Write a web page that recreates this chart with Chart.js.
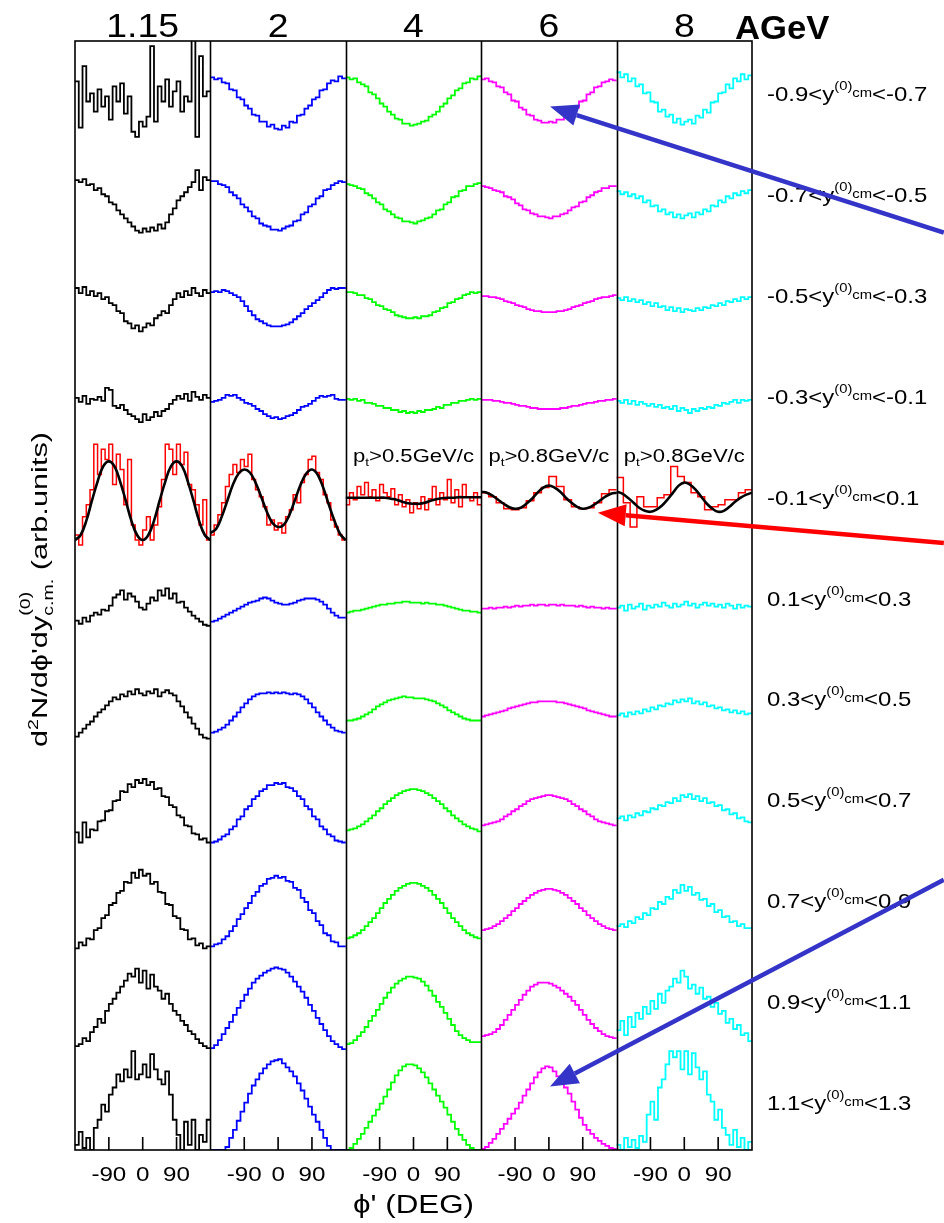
<!DOCTYPE html>
<html><head><meta charset="utf-8">
<script src="https://cdn.jsdelivr.net/npm/chart.js@4.4.1/dist/chart.umd.min.js"></script>
<style>html,body{margin:0;padding:0;background:#fff}#wrap{position:relative;width:944px;height:1223px}</style>
</head><body><div id="wrap"><canvas id="c"></canvas></div>
<script>
// ---- categories / tick labels ----
const energies = ['1.15', '2', '4', '6', '8'];
const yEdges = ['-0.9','-0.7','-0.5','-0.3','-0.1','0.1','0.3','0.5','0.7','0.9','1.1','1.3'];
const phiTicks = [-90, 0, 90];
const ptCuts = [null, null, '0.5', '0.8', '0.8'];

// ---- histograms: 36 bins of 10 deg, phi' from -180 to 180, arb. units per rapidity row ----
const e115 = [
 [60,14,75,40,48,30,52,35,45,22,55,40,58,28,45,10,5,20,15,25,95,20,55,40,62,35,50,60,30,45,40,101,5,85,45,50],
 [62,60,63,57,58,52,54,48,46,40,38,32,28,24,20,16,12,10,14,11,15,12,18,14,20,28,34,42,46,50,55,60,72,52,65,62],
 [55,50,56,48,52,47,50,44,46,40,38,32,30,22,20,15,18,12,16,20,18,25,28,32,30,38,44,50,46,52,48,55,50,47,53,50],
 [46,42,48,40,45,44,47,43,56,54,38,36,39,34,30,28,25,22,30,24,27,32,28,33,35,40,44,48,45,50,43,52,47,44,49,46],
 null,
 [25,22,28,24,30,33,31,36,35,40,48,51,55,46,52,49,44,38,36,42,48,45,55,50,57,47,52,43,44,38,34,30,27,24,21,20],
 [10,14,18,22,25,30,34,37,41,45,49,47,52,50,55,52,57,53,51,55,53,57,50,54,56,53,51,45,40,34,29,23,18,12,9,8],
 [15,5,25,10,18,17,26,27,36,37,46,47,56,55,63,60,67,64,68,62,65,58,59,51,50,42,40,32,30,22,21,14,13,8,9,5],
 [0,6,3,10,9,18,20,30,33,43,45,55,57,66,65,75,70,78,72,74,64,66,56,55,44,43,32,30,19,18,9,10,3,5,0,2],
 [3,5,11,8,17,22,30,26,38,45,50,56,62,68,75,72,80,66,78,60,74,62,58,50,55,45,38,34,28,24,18,15,10,6,3,1],
 [5,18,2,12,0,22,30,45,38,55,62,75,68,80,72,98,70,75,85,72,95,80,70,65,78,55,30,15,0,28,5,30,0,15,8,30]
];
const e2 = [
 [64,62,63,59,58,52,51,44,42,36,33,27,26,20,20,15,17,13,12,16,14,20,19,26,27,33,36,42,44,51,52,58,61,60,65,63],
 [61,61,58,57,55,50,47,44,38,35,31,26,24,19,17,16,13,13,12,14,16,17,21,22,28,30,36,38,44,46,52,53,57,59,61,60],
 [51,52,51,53,52,50,48,46,42,37,32,28,24,22,20,18,17,17,17,18,19,21,24,27,30,34,37,40,43,46,50,53,55,54,55,55],
 [42,43,44,46,49,48,49,46,44,41,40,38,35,33,30,28,26,27,25,26,28,29,31,34,37,38,40,43,46,48,47,48,49,45,44,44],
 null,
 [24,25,27,29,31,33,35,37,39,41,43,44,45,47,48,47,45,43,42,41,41,42,43,45,46,47,47,47,46,44,41,37,33,30,28,28],
 [14,15,17,19,22,26,30,34,39,43,47,50,52,53,53,54,53,54,53,54,53,52,53,52,50,47,43,39,34,30,26,22,19,16,15,14],
 [5,6,8,11,13,18,21,28,31,38,41,48,51,56,58,62,62,64,63,64,60,59,56,51,48,41,38,31,28,21,18,13,11,7,6,5],
 [2,4,5,9,12,17,22,29,34,40,45,52,56,62,64,69,70,72,70,71,67,66,60,58,50,46,38,35,27,23,15,13,7,6,2,2],
 [1,4,9,15,21,27,34,41,48,54,60,66,70,73,76,78,80,81,80,79,76,72,67,62,57,51,44,38,31,25,19,13,8,5,2,0],
 [0,0,0,0,3,12,20,29,38,47,56,64,70,76,81,85,88,89,90,86,82,78,73,66,59,51,43,35,28,20,12,4,0,0,0,0]
];
const e4 = [
 [64,62,63,59,57,55,49,47,43,38,35,30,27,23,22,18,18,16,17,18,20,21,25,27,30,35,38,43,46,51,53,58,59,63,62,65],
 [58,57,56,54,53,49,47,44,40,38,33,31,28,25,24,21,21,20,19,21,22,24,25,28,32,33,38,40,45,46,51,52,56,56,58,59],
 [51,51,50,48,48,45,44,41,38,37,34,33,31,28,27,26,25,25,26,25,27,27,28,31,32,35,36,40,41,44,45,48,49,51,50,51],
 [45,44,45,43,44,41,41,40,38,38,36,36,34,34,32,33,31,32,31,33,32,34,34,35,37,36,39,39,41,41,43,43,44,45,44,45],
 null,
 [33,34,35,35,36,37,38,39,40,41,41,42,42,43,43,44,44,43,43,43,42,43,42,42,41,41,40,39,38,37,36,35,35,34,34,33],
 [26,26,27,28,30,32,34,37,40,42,44,46,47,48,49,50,49,49,48,48,48,47,46,45,43,41,39,36,34,32,30,28,27,26,26,26],
 [17,18,19,21,23,26,29,32,36,39,43,46,49,52,54,56,57,58,58,57,56,54,52,49,46,43,39,36,32,29,26,23,21,19,18,16],
 [10,11,13,15,18,22,26,30,35,40,45,49,53,57,60,62,64,65,65,64,62,60,57,53,49,45,40,35,30,26,22,18,15,13,11,10],
 [5,6,9,13,17,22,28,33,39,45,51,56,61,65,68,70,72,72,71,70,67,63,58,53,47,42,36,30,24,18,14,11,9,7,7,7],
 [0,2,6,11,16,22,28,34,40,46,53,60,67,74,79,83,85,85,84,81,77,72,66,60,54,48,42,35,28,21,15,10,5,2,0,0]
];
const e6 = [
 [62,63,60,59,55,54,49,47,41,40,34,32,27,26,22,21,19,19,20,19,22,22,26,27,32,34,40,41,47,49,54,55,59,60,62,61],
 [56,55,54,52,51,50,46,45,43,39,37,33,32,29,28,26,26,25,24,26,26,28,29,32,35,36,40,41,45,47,50,51,54,54,56,56],
 [47,47,46,46,45,44,42,41,40,38,37,36,34,33,32,32,31,31,31,31,32,32,33,34,36,37,38,40,41,42,44,45,46,46,47,48],
 [44,44,44,43,43,42,41,41,40,39,38,38,37,36,36,35,35,35,35,35,35,36,36,37,38,38,39,40,41,41,42,43,43,44,44,45],
 null,
 [37,37,38,37,38,38,39,38,39,40,39,40,40,41,40,41,41,40,41,41,40,41,40,40,40,39,40,39,38,39,38,38,37,38,37,37],
 [30,31,32,33,34,35,36,38,39,40,41,42,43,44,44,45,45,45,45,45,44,44,43,42,41,40,39,38,36,35,34,33,32,31,30,30],
 [22,23,24,25,26,28,31,33,36,38,41,43,46,48,49,50,51,52,52,51,50,49,48,46,43,41,38,36,33,31,28,26,25,24,23,22],
 [18,19,20,22,24,27,30,33,37,40,44,47,50,53,55,57,58,59,59,58,57,55,53,50,47,44,40,37,33,30,27,24,22,20,19,18],
 [13,14,15,17,20,24,29,34,39,44,49,54,58,62,64,66,66,66,65,63,61,58,55,52,48,44,39,34,29,25,21,18,15,13,12,11],
 [1,3,7,11,16,21,26,31,36,41,47,54,60,66,72,77,81,83,82,78,73,67,62,56,48,40,32,25,20,16,12,9,6,4,2,1]
];
const e8 = [
 [69,64,67,60,63,55,57,48,49,40,39,30,32,25,27,19,23,17,20,22,18,26,24,32,29,39,40,48,49,57,53,63,60,67,62,66],
 [51,48,50,46,48,44,46,40,42,36,37,31,33,28,30,25,28,24,27,29,25,30,28,33,31,37,36,42,40,46,44,49,47,51,49,52],
 [45,43,46,42,44,41,43,39,41,37,40,36,37,33,36,32,35,31,34,33,32,35,33,36,35,38,37,40,38,42,41,44,42,46,44,46],
 [43,41,44,40,43,39,42,40,38,40,37,39,36,37,35,38,33,36,34,31,35,33,36,35,37,36,39,38,41,40,42,44,41,44,43,44],
 null,
 [38,40,35,41,37,39,42,36,40,38,41,39,43,40,38,42,39,41,44,40,42,38,41,43,40,42,39,41,38,42,40,37,41,38,40,39],
 [31,33,30,34,32,35,33,37,35,39,37,41,40,43,42,46,44,47,45,48,43,45,42,44,40,41,38,39,36,37,34,36,33,35,32,33],
 [29,31,27,32,30,34,32,36,35,39,38,42,41,45,44,49,46,52,50,53,48,51,46,49,44,45,41,42,37,38,33,34,29,30,26,25],
 [22,24,21,27,25,31,29,35,33,40,39,46,44,51,49,58,55,63,57,61,53,55,48,49,42,44,36,38,31,32,26,27,22,24,20,20],
 [19,28,14,32,22,36,30,42,35,48,40,55,46,58,62,70,66,78,72,60,64,55,61,50,52,42,46,35,38,26,30,20,24,14,16,8],
 [5,0,12,3,10,2,14,8,35,48,30,62,70,85,98,92,98,80,98,75,96,82,70,78,55,48,30,40,22,15,5,20,3,12,0,8]
];

// ---- mid-rapidity row: red histograms (various binnings) and fits (phi' -180..180 step 15) ----
const red115 = [10,0,28,40,55,100,70,95,85,100,60,90,75,40,85,20,5,0,15,28,5,20,38,65,100,95,70,100,80,92,60,55,40,20,45,5];
const red2 = [10,20,30,42,58,70,80,72,85,78,90,65,55,48,38,20,25,15,22,12,28,35,50,42,62,70,85,88,72,65,50,42,25,18,10,5];
const red4 = [40,52,45,58,50,62,48,55,44,60,52,48,56,40,50,38,45,32,42,36,48,35,46,58,40,52,45,65,42,55,38,60,48,44,52,40];
const red6 = [52,48,42,36,35,37,44,52,57,68,58,45,38,36,37,42,51,55];
const red8 = [67,42,18,48,38,38,47,50,78,68,62,52,48,35,38,40,45,45,52,55];
const fit115 = [5,10,24,44,63,78,83,78,63,44,24,10,5,10,24,44,63,78,83,78,63,44,24,10,5];
const fit2 = [12,16,28,44,60,71,75,72,62,48,33,22,18,20,30,45,60,71,75,70,57,40,24,11,5];
const fit4 = [47,47,47,47,47,47,47,47,46,45,43,41.5,41,41,42,44,45.5,46.5,47,47,47.5,47.5,47.5,47.5,47.5];
const fit6 = [53,52,49,45,41,37.5,36,37,41,46,52,57,59,57,53,47,42,38,36,37,40,44,48,51,52];
const fit8 = [53,51,47,42,37,34,33,35,39,45,52,59,62,60,55,48,41,36,33,34,38,43,47,50,52];

// ---- annotation arrows (data units: x = 360 per column, y = 100 per row) ----
const arrowTails = [[2310, 910], [2310, 602], [2310, 268]];
const arrowTips  = [[1263, 1035], [1390, 632], [1263, 63]];
const arrowColors = ['#3434c8', '#ff0000', '#3434c8'];

// ---- build ----
const COLORS = ['#000000', '#0000ff', '#00ff00', '#ff00ff', '#00ffff'];
const ROWS = 11, ROWH = 100, MIDROW = 4;
const hist = [e115, e2, e4, e6, e8];
const reds = [red115, red2, red4, red6, red8];
const fits = [fit115, fit2, fit4, fit6, fit8];
const FONT = '"Liberation Sans", Arial, Helvetica, sans-serif';

function histPoints(c, r, vals) {
  const w = 360 / vals.length, base = (ROWS - 1 - r) * ROWH, x0 = c * 360;
  const pts = vals.map((v, i) => ({x: x0 + i * w, y: base + v}));
  pts.push({x: x0 + 360, y: base + vals[vals.length - 1]});
  return pts;
}
function fitPoints(c, r, vals) {
  const step = 360 / (vals.length - 1), base = (ROWS - 1 - r) * ROWH, x0 = c * 360;
  return vals.map((v, i) => ({x: x0 + i * step, y: base + v}));
}

const datasets = [];
for (let c = 0; c < 5; c++) {
  for (let r = 0; r < ROWS; r++) {
    if (r === MIDROW) continue;
    datasets.push({data: histPoints(c, r, hist[c][r]), borderColor: COLORS[c], borderWidth: 1.8,
      stepped: true, pointRadius: 0, fill: false, order: 2});
  }
  datasets.push({data: histPoints(c, MIDROW, reds[c]), borderColor: '#ff0000', borderWidth: 1.5,
    stepped: true, pointRadius: 0, fill: false, order: 1});
  datasets.push({data: fitPoints(c, MIDROW, fits[c]), borderColor: '#000000', borderWidth: 2.6,
    tension: 0.4, pointRadius: 0, fill: false, order: 0});
}

function richWidth(ctx, pieces) {
  let w = 0;
  for (const p of pieces) { ctx.font = `${p.b ? 'bold ' : ''}${p.s}px ${FONT}`; if (!p.n) w += ctx.measureText(p.t).width; }
  return w;
}
function drawRich(ctx, pieces, x, y, sx, align) {
  const w = richWidth(ctx, pieces) * sx;
  let cx = align === 'center' ? x - w / 2 : (align === 'right' ? x - w : x);
  ctx.textAlign = 'left'; ctx.textBaseline = 'alphabetic';
  for (const p of pieces) {
    ctx.font = `${p.b ? 'bold ' : ''}${p.s}px ${FONT}`;
    ctx.save(); ctx.translate(cx, y + (p.dy || 0)); ctx.scale(sx, 1); ctx.fillText(p.t, 0, 0); ctx.restore();
    if (!p.n) cx += ctx.measureText(p.t).width * sx;
  }
}
function drawFit(ctx, pieces, x, y, width, align) {
  const sx = width / richWidth(ctx, pieces);
  drawRich(ctx, pieces, x, y, sx, align);
}
function arrow(ctx, x1, y1, x2, y2, color) {
  const ang = Math.atan2(y2 - y1, x2 - x1), L = 28, H = 11;
  const bx = x2 - L * Math.cos(ang), by = y2 - L * Math.sin(ang);
  ctx.save();
  ctx.strokeStyle = color; ctx.fillStyle = color; ctx.lineWidth = 4.5; ctx.lineCap = 'butt';
  ctx.beginPath(); ctx.moveTo(x1, y1); ctx.lineTo(bx, by); ctx.stroke();
  ctx.beginPath(); ctx.moveTo(x2, y2);
  ctx.lineTo(bx + H * Math.sin(ang), by - H * Math.cos(ang));
  ctx.lineTo(bx - H * Math.sin(ang), by + H * Math.cos(ang));
  ctx.closePath(); ctx.fill();
  ctx.restore();
}

const decor = {
  id: 'decor',
  afterDraw(chart) {
    const ctx = chart.ctx, xs = chart.scales.x, ys = chart.scales.y, a = chart.chartArea;
    ctx.save();
    ctx.fillStyle = '#000'; ctx.strokeStyle = '#000';
    // frame + column dividers
    ctx.lineWidth = 1.6;
    ctx.strokeRect(a.left, a.top, a.right - a.left, a.bottom - a.top);
    ctx.beginPath();
    for (let c = 1; c < 5; c++) { const x = Math.round(xs.getPixelForValue(c * 360)) + 0.5; ctx.moveTo(x, a.top); ctx.lineTo(x, a.bottom); }
    ctx.stroke();
    // inward ticks + tick labels
    ctx.lineWidth = 1.6;
    ctx.beginPath();
    for (let c = 0; c < 5; c++) for (const t of phiTicks) {
      const x = xs.getPixelForValue(c * 360 + t + 180);
      ctx.moveTo(x, a.bottom); ctx.lineTo(x, a.bottom - 13);
    }
    ctx.stroke();
    for (let c = 0; c < 5; c++) for (const t of phiTicks) {
      const x = xs.getPixelForValue(c * 360 + t + 180);
      drawRich(ctx, [{t: String(t), s: 21}], x, a.bottom + 31, 1.15, 'center');
    }
    // column titles
    for (let c = 0; c < 5; c++) {
      const x = xs.getPixelForValue(c * 360 + 180);
      drawRich(ctx, [{t: energies[c], s: 34}], x, a.top - 4, 1.1, 'center');
    }
    drawRich(ctx, [{t: 'AGeV', s: 33, b: true}], 735, a.top - 2, 1.05, 'left');
    // rapidity labels
    for (let r = 0; r < ROWS; r++) {
      const y = ys.getPixelForValue((ROWS - 1 - r) * ROWH + 40);
      drawRich(ctx, [{t: yEdges[r] + '<y', s: 21}, {t: '(0)', s: 13, dy: -11}, {t: 'cm', s: 13, dy: -4},
        {t: '<' + yEdges[r + 1], s: 21}], a.right + 15, y, 1.14, 'left');
    }
    // pt cut labels in mid row
    for (let c = 0; c < 5; c++) {
      if (!ptCuts[c]) continue;
      const x = xs.getPixelForValue(c * 360 + 180);
      const y = ys.getPixelForValue((ROWS - 1 - MIDROW) * ROWH + 82);
      drawFit(ctx, [{t: 'p', s: 18}, {t: 't', s: 11, dy: 4}, {t: '>' + ptCuts[c] + 'GeV/c', s: 18}], x, y, 121, 'center');
    }
    // axis titles
    drawFit(ctx, [{t: "\u03d5' (DEG)", s: 25}], xs.getPixelForValue(900), a.bottom + 63, 121, 'center');
    ctx.save();
    ctx.translate(47, (a.top + a.bottom) / 2 - 6);
    ctx.rotate(-Math.PI / 2);
    drawFit(ctx, [{t: 'd', s: 22}, {t: '2', s: 14, dy: -9}, {t: "N/d\u03d5'dy", s: 22},
      {t: '(0)', s: 14, dy: -17, n: true}, {t: 'c.m.', s: 14, dy: 6}, {t: ' (arb.units)', s: 22}], 0, 0, 315, 'center');
    ctx.restore();
    // arrows
    for (let i = 0; i < arrowTails.length; i++) {
      arrow(ctx, xs.getPixelForValue(arrowTails[i][0]), ys.getPixelForValue(arrowTails[i][1]),
        xs.getPixelForValue(arrowTips[i][0]), ys.getPixelForValue(arrowTips[i][1]), arrowColors[i]);
    }
    ctx.restore();
  }
};

new Chart(document.getElementById('c'), {
  type: 'line',
  data: {datasets},
  options: {
    responsive: true, maintainAspectRatio: false, animation: false, events: [],
    layout: {padding: {left: 75, right: 192, top: 41, bottom: 73}},
    scales: {
      x: {type: 'linear', min: 0, max: 1800, display: false},
      y: {type: 'linear', min: 0, max: ROWS * ROWH, display: false}
    },
    plugins: {legend: {display: false}, tooltip: {enabled: false}}
  },
  plugins: [decor]
});
</script></body></html>
